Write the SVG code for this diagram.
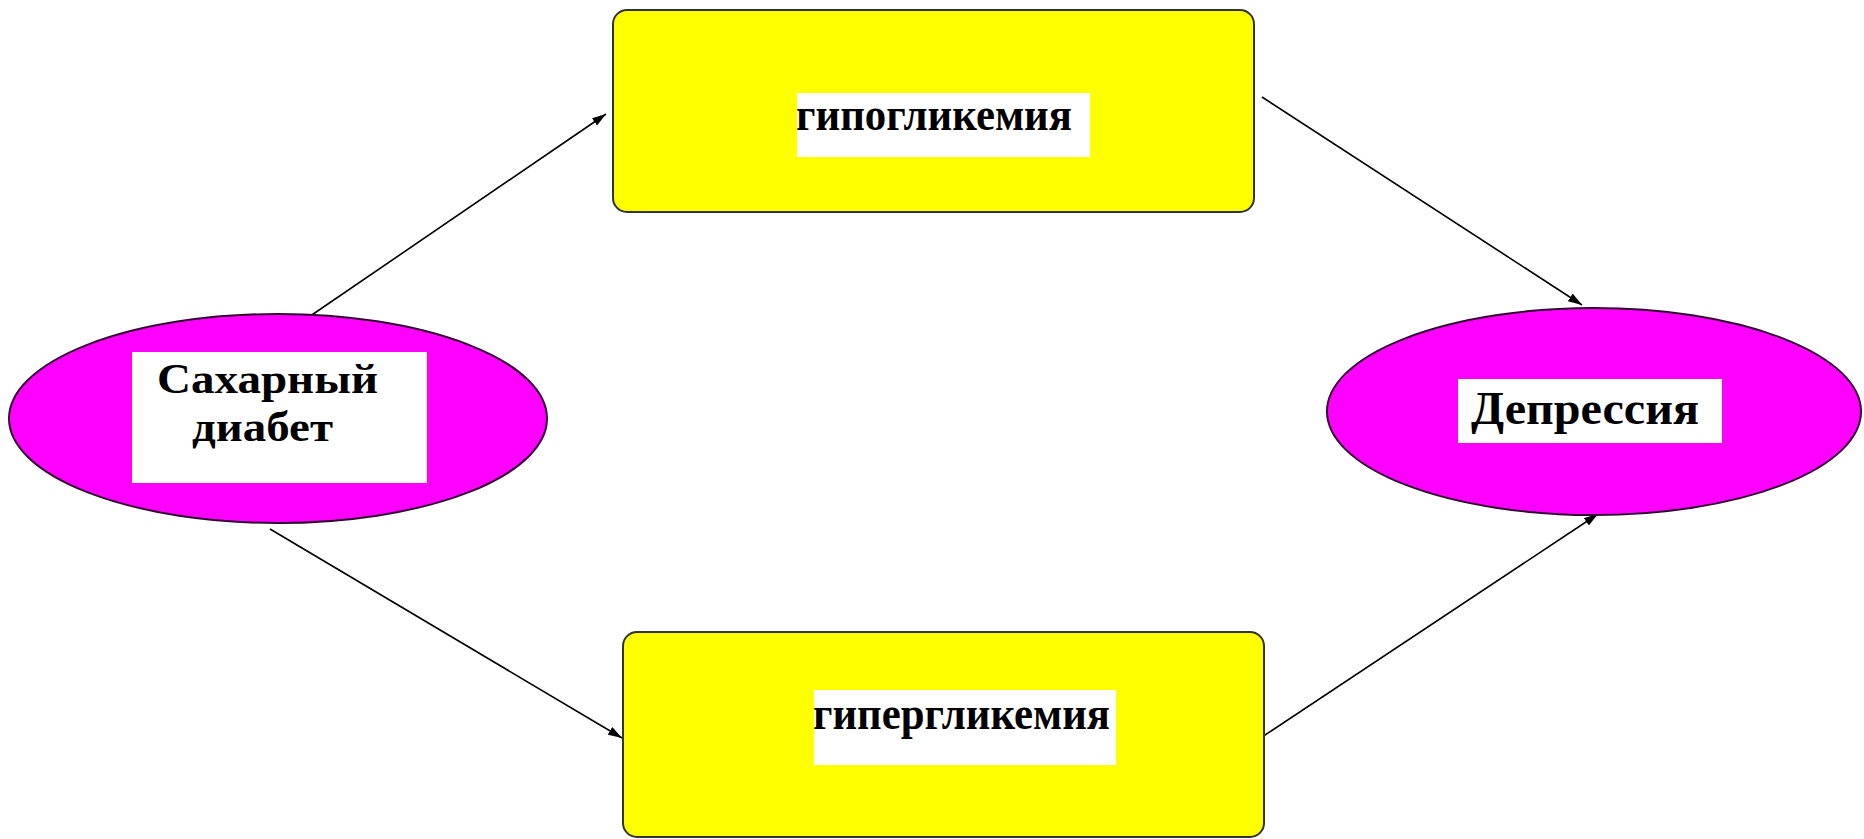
<svg xmlns="http://www.w3.org/2000/svg" width="1864" height="839" viewBox="0 0 1864 839">
<style>
.box{fill:#ffff00;stroke:#333;stroke-width:2}
.oval{fill:#ff00ff;stroke:#330033;stroke-width:2}
.lbl{fill:#fff}
.t{font-family:"Liberation Serif","Times New Roman",serif;font-weight:bold;fill:#000}
.edge{stroke:#000;stroke-width:1.6;fill:none;marker-end:url(#ah)}
</style>
<defs>
<marker id="ah" viewBox="0 0 14 9" refX="14" refY="4.5" markerWidth="14" markerHeight="9" markerUnits="userSpaceOnUse" orient="auto">
<path d="M0,0 L14,4.5 L0,9 Z" fill="#000"/>
</marker>
</defs>
<rect width="1864" height="839" fill="#fff"/>
<g id="connectors">
<line class="edge" x1="303" y1="321" x2="606" y2="114"/>
<line class="edge" x1="1262" y1="97" x2="1582" y2="305"/>
<line class="edge" x1="270" y1="529" x2="622" y2="738"/>
<line class="edge" x1="1262" y1="737" x2="1598" y2="514"/>
</g>
<g id="hypoglycemia">
<rect class="box" x="613" y="10" width="641" height="202" rx="14"/>
<rect class="lbl" x="797" y="93" width="293" height="64"/>
<text class="t" x="796" y="130" font-size="47" textLength="276" lengthAdjust="spacingAndGlyphs">гипогликемия</text>
</g>
<g id="hyperglycemia">
<rect class="box" x="623" y="632" width="641" height="205" rx="14"/>
<rect class="lbl" x="814" y="690" width="302" height="75"/>
<text class="t" x="813" y="729" font-size="46" textLength="297" lengthAdjust="spacingAndGlyphs">гипергликемия</text>
</g>
<g id="diabetes">
<ellipse class="oval" cx="278" cy="418.5" rx="269" ry="104.5"/>
<rect class="lbl" x="132" y="352" width="295" height="131"/>
<text class="t" x="157" y="393" font-size="43" textLength="221" lengthAdjust="spacingAndGlyphs">Сахарный</text>
<text class="t" x="192" y="441" font-size="43" textLength="141" lengthAdjust="spacingAndGlyphs">диабет</text>
</g>
<g id="depression">
<ellipse class="oval" cx="1594" cy="411.5" rx="267" ry="103.5"/>
<rect class="lbl" x="1458" y="379" width="264" height="64"/>
<text class="t" x="1471" y="424" font-size="47" textLength="228" lengthAdjust="spacingAndGlyphs">Депрессия</text>
</g>
</svg>
